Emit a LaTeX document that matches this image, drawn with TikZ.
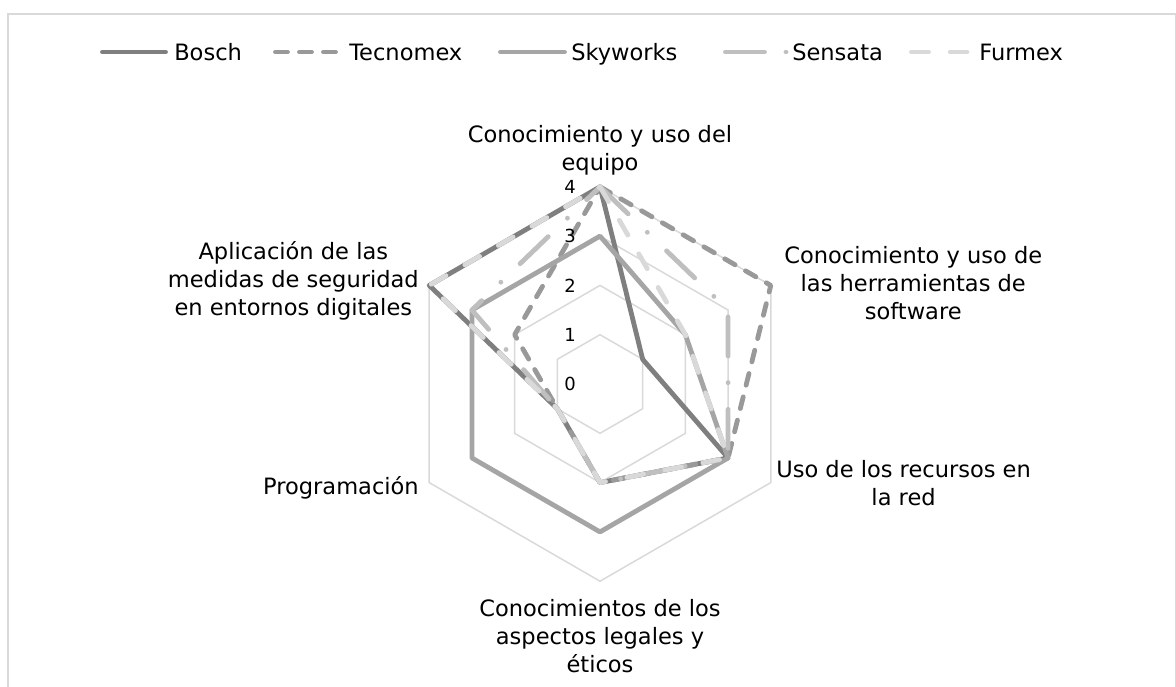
\documentclass[tikz,border=0pt]{standalone}
\usepackage{fontspec}
\setmainfont{DejaVu Sans}
\definecolor{cbosch}{HTML}{7F7F7F}
\definecolor{ctecno}{HTML}{999999}
\definecolor{csky}{HTML}{A5A5A5}
\definecolor{csens}{HTML}{BFBFBF}
\definecolor{cfurm}{HTML}{D9D9D9}
\definecolor{cgrid}{HTML}{D9D9D9}
\tikzset{
  serie/.style={line width=3.6pt, line cap=round, line join=round},
  bosch/.style={serie, draw=cbosch},
  tecno/.style={serie, draw=ctecno, dash pattern=on 9pt off 9pt},
  sky/.style={serie, draw=csky},
  sens/.style={serie, draw=csens, dash pattern=on 29.25pt off 20pt on 0.01pt off 20pt},
  furm/.style={serie, draw=cfurm, dash pattern=on 12.75pt off 16.3pt},
  ring/.style={draw=cgrid, line width=1.1pt},
  lbl/.style={inner sep=0pt, align=center, font=\fontsize{16.9}{21}\selectfont},
  leg/.style={inner sep=0pt, anchor=base west, font=\fontsize{16.9}{21}\selectfont},
  tick/.style={inner sep=0pt, anchor=east, font=\fontsize{13.5}{16}\selectfont}
}
\begin{document}
\begin{tikzpicture}[x=0.75pt,y=-0.75pt]
\useasboundingbox (0,0) rectangle (1176,686);
\clip (0,0) rectangle (1176,686);
\fill[white] (0,0) rectangle (1176,686);
% frame
\draw[draw=cgrid, line width=1.5pt] (8,700) -- (8,13.5) -- (1175.5,13.5) -- (1175.5,700);
\def\u{49.3}
\begin{scope}[shift={(600,384)}]
  % rings
  \foreach \v in {1,2,3,4}{
    \draw[ring] (-90:\v*\u) -- (-30:\v*\u) -- (30:\v*\u) -- (90:\v*\u) -- (150:\v*\u) -- (210:\v*\u) -- cycle;
  }
  % series
  \draw[bosch] (-90:4*\u) -- (-30:1*\u) -- (30:3*\u) -- (90:2*\u) -- (150:1*\u) -- (210:4*\u) -- cycle;
  \draw[tecno] (-90:4*\u) -- (-30:4*\u) -- (30:3*\u) -- (90:2*\u) -- (150:1*\u) -- (210:2*\u) -- cycle;
  \draw[sky] (-90:3*\u) -- (-30:2*\u) -- (30:3*\u) -- (90:3*\u) -- (150:3*\u) -- (210:3*\u) -- cycle;
  \draw[sens] (-90:4*\u) -- (-30:3*\u) -- (30:3*\u) -- (90:2*\u) -- (150:1*\u) -- (210:3*\u) -- cycle;
  \draw[furm] (-90:4*\u) -- (-30:2*\u) -- (30:3*\u) -- (90:2*\u) -- (150:1*\u) -- (210:4*\u) -- cycle;
\end{scope}
% tick labels
\node[tick] (t4) at (576,186.8) {4};
\node[tick] (t3) at (576,236.1) {3};
\node[tick] (t2) at (576,285.4) {2};
\node[tick] (t1) at (576,334.7) {1};
\node[tick] (t0) at (576,384) {0};
% category labels
\node[lbl] (a0) at (600,150) {Conocimiento y uso del\\equipo};
\node[lbl, anchor=west] (a1) at (784,283) {Conocimiento y uso de\\las herramientas de\\software};
\node[lbl, anchor=west] (a2) at (776,483) {Uso de los recursos en\\la red};
\node[lbl] (a3) at (600,636) {Conocimientos de los\\aspectos legales y\\éticos};
\node[lbl, anchor=base east] (a4) at (419,494) {Programación};
\node[lbl, anchor=east] (a5) at (419,281) {Aplicación de las\\medidas de seguridad\\en entornos digitales};
% legend
\coordinate (lb1) at (102.5,52); \coordinate (lb2) at (165.5,52);
\draw[bosch] (lb1) -- (lb2);
\node[leg] (lbosch) at (174,60) {Bosch};
\coordinate (lt1) at (275.5,52); \coordinate (lt2) at (335.5,52);
\draw[tecno] (lt1) -- (lt2);
\node[leg] (ltecno) at (349,60) {Tecnomex};
\coordinate (ls1) at (500.5,52); \coordinate (ls2) at (564.5,52);
\draw[sky] (ls1) -- (ls2);
\node[leg] (lsky) at (571,60) {Skyworks};
\coordinate (le1) at (725.5,52); \coordinate (le2) at (786.5,52);
\draw[sens, dash pattern=on 29.25pt off 16.1pt on 0.01pt off 22pt] (le1) -- (le2);
\node[leg] (lsens) at (792,60) {Sensata};
\coordinate (lf1) at (911.5,52); \coordinate (lf2) at (967,52);
\draw[furm] (lf1) -- (lf2);
\node[leg] (lfurm) at (979,60) {Furmex};
\end{tikzpicture}
\end{document}
